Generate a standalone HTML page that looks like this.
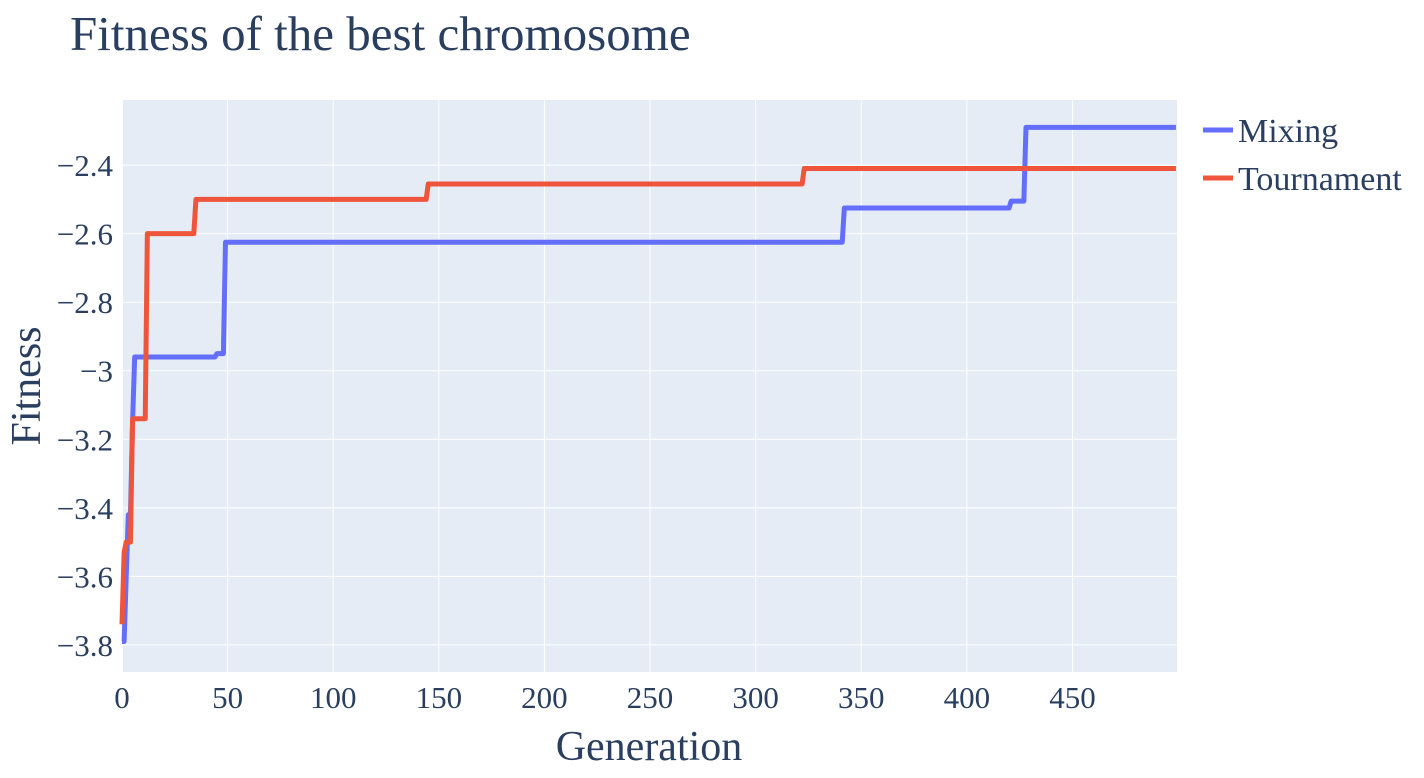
<!DOCTYPE html>
<html><head><meta charset="utf-8"><style>
body{margin:0;background:#fff;}
svg text{font-family:"Liberation Serif",serif;fill:#2a3f5f;}
</style></head><body>
<svg id="chart" width="1424" height="773">
<text x="70" y="50" font-size="49">Fitness of the best chromosome</text>
<rect x="122" y="100" width="1055" height="572" fill="#e5ecf6"/>
<g id="grid"></g>
<g id="lines"></g>
<g id="ticks"></g>
<text x="649" y="760" font-size="42" text-anchor="middle">Generation</text>
<text transform="translate(40,386) rotate(-90)" font-size="42" text-anchor="middle">Fitness</text>
<g>
<line x1="1203" y1="130" x2="1233" y2="130" stroke="#636efa" stroke-width="5"/>
<text x="1238" y="142" font-size="34">Mixing</text>
<line x1="1203" y1="178" x2="1233" y2="178" stroke="#ef553b" stroke-width="5"/>
<text x="1238" y="190" font-size="34">Tournament</text>
</g>
</svg>
<script>
const mixingGen = [0,1,2,3,4,5,6,44,45,48,49,341,342,420,421,427,428,499];
const mixingFit = [-3.79,-3.79,-3.6,-3.42,-3.42,-3.15,-2.96,-2.96,-2.95,-2.95,-2.625,-2.625,-2.525,-2.525,-2.505,-2.505,-2.29,-2.29];
const tournGen = [0,1,2,4,5,11,12,34,35,144,145,322,323,499];
const tournFit = [-3.74,-3.53,-3.50,-3.50,-3.14,-3.14,-2.6,-2.6,-2.5,-2.5,-2.455,-2.455,-2.41,-2.41];
const xTicks = [0,50,100,150,200,250,300,350,400,450];
const yTicks = [-2.4,-2.6,-2.8,-3,-3.2,-3.4,-3.6,-3.8];
const yTickLabels = ["\u22122.4","\u22122.6","\u22122.8","\u22123","\u22123.2","\u22123.4","\u22123.6","\u22123.8"];
const X0=122,X1=1177,Y0=100,Y1=672,xMin=0,xMax=499.5,yMin=-3.879,yMax=-2.21;
const sx=v=>X0+(v-xMin)/(xMax-xMin)*(X1-X0);
const sy=v=>Y1-(v-yMin)/(yMax-yMin)*(Y1-Y0);
const NS="http://www.w3.org/2000/svg";
const grid=document.getElementById('grid'),ticks=document.getElementById('ticks'),lines=document.getElementById('lines');
xTicks.forEach(t=>{
  const l=document.createElementNS(NS,'line');
  l.setAttribute('x1',sx(t));l.setAttribute('x2',sx(t));l.setAttribute('y1',Y0);l.setAttribute('y2',Y1);
  l.setAttribute('stroke','#fff');l.setAttribute('stroke-width',t===0?2:1);
  
  
  grid.appendChild(l);
  const tx=document.createElementNS(NS,'text');
  tx.setAttribute('x',sx(t));tx.setAttribute('y',708);tx.setAttribute('font-size','31');tx.setAttribute('text-anchor','middle');
  tx.textContent=t;
  
  
  ticks.appendChild(tx);
});
yTicks.forEach((t,i)=>{
  const l=document.createElementNS(NS,'line');
  l.setAttribute('x1',X0);l.setAttribute('x2',X1);l.setAttribute('y1',sy(t));l.setAttribute('y2',sy(t));
  l.setAttribute('stroke','#fff');l.setAttribute('stroke-width',1);
  
  
  grid.appendChild(l);
  const tx=document.createElementNS(NS,'text');
  tx.setAttribute('x',113);tx.setAttribute('y',sy(t)+11);tx.setAttribute('font-size','31');tx.setAttribute('text-anchor','end');
  tx.textContent=yTickLabels[i];
  
  
  ticks.appendChild(tx);
});
function drawLine(gx,fy,color,name){
  const p=document.createElementNS(NS,'polyline');
  p.setAttribute('points',gx.map((g,i)=>sx(g)+','+sy(fy[i])).join(' '));
  p.setAttribute('fill','none');p.setAttribute('stroke',color);p.setAttribute('stroke-width','5');
  p.setAttribute('stroke-linejoin','round');
  
  
  lines.appendChild(p);
}
drawLine(mixingGen,mixingFit,'#636efa','mixing-line');
drawLine(tournGen,tournFit,'#ef553b','tournament-line');
</script>
</body></html>
